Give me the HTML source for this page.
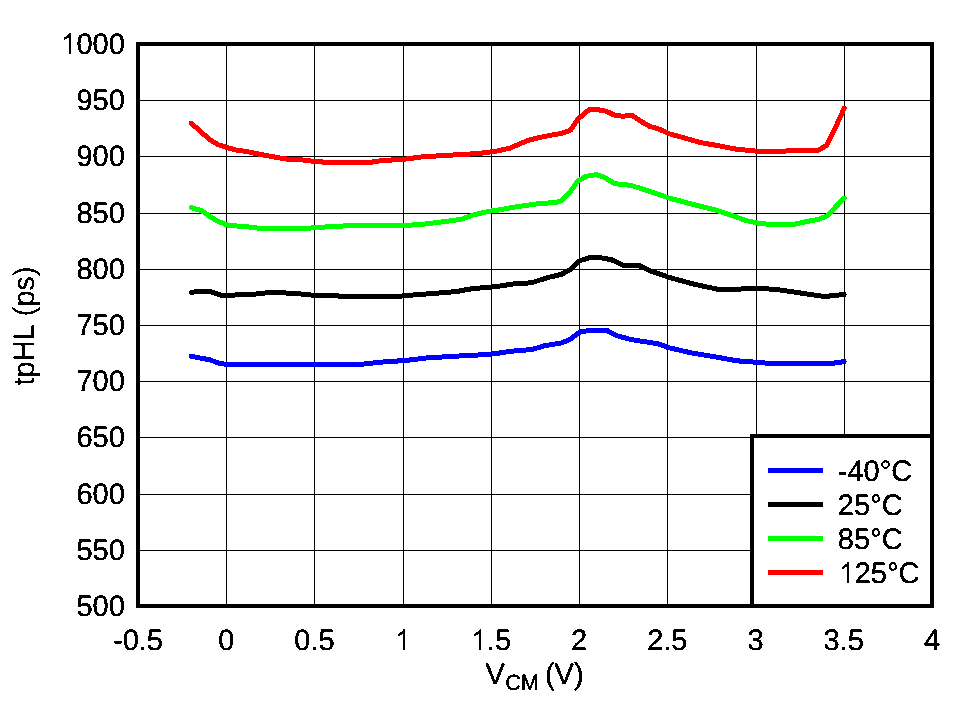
<!DOCTYPE html>
<html><head><meta charset="utf-8"><title>tpHL vs VCM</title>
<style>
html,body{margin:0;padding:0;background:#fff;}
body{width:964px;height:701px;overflow:hidden;}
svg{display:block;text-rendering:geometricPrecision;font-family:"Liberation Sans",sans-serif;font-size:29px;fill:#000;}
.c{fill:none;stroke-width:5;stroke-linejoin:round;stroke-linecap:round;shape-rendering:crispEdges;}
</style></head><body>
<svg width="964" height="701" viewBox="0 0 964 701">
<defs><filter id="th" x="0" y="0" width="964" height="701" filterUnits="userSpaceOnUse" color-interpolation-filters="sRGB"><feComponentTransfer><feFuncA type="discrete" tableValues="0 0 0 1 1"/></feComponentTransfer></filter></defs>
<rect width="964" height="701" fill="#fff"/>
<g shape-rendering="crispEdges" fill="#000"><rect x="226" y="44" width="1" height="562"/><rect x="314" y="44" width="1" height="562"/><rect x="403" y="44" width="1" height="562"/><rect x="491" y="44" width="1" height="562"/><rect x="579" y="44" width="1" height="562"/><rect x="667" y="44" width="1" height="562"/><rect x="756" y="44" width="1" height="562"/><rect x="844" y="44" width="1" height="562"/><rect x="138" y="100" width="794" height="1"/><rect x="138" y="156" width="794" height="1"/><rect x="138" y="213" width="794" height="1"/><rect x="138" y="269" width="794" height="1"/><rect x="138" y="325" width="794" height="1"/><rect x="138" y="381" width="794" height="1"/><rect x="138" y="437" width="794" height="1"/><rect x="138" y="494" width="794" height="1"/><rect x="138" y="550" width="794" height="1"/></g>
<polyline class="c" stroke="#0000ff" points="191.3,356.3 209.9,359.9 219.9,363.4 225.7,364.3 361.6,364.3 381.5,362.1 406.4,360.4 426.3,358.0 452.9,356.3 486.1,354.6 497.0,353.4 511.6,351.2 531.5,349.6 544.8,345.7 561.4,342.9 569.7,339.6 579.6,332.1 588.8,330.5 607.0,330.5 616.2,335.5 631.1,339.6 650.0,342.5 658.3,343.8 668.3,347.6 691.5,352.9 716.4,357.1 733.0,360.1 744.6,361.7 760.5,362.3 769.5,363.7 829.8,363.7 844.2,361.6"/>
<polyline class="c" stroke="#000000" points="191.3,292.4 196.6,291.6 209.9,291.6 219.9,294.9 226.5,296.0 239.8,294.5 256.4,294.0 268.0,292.7 282.9,292.7 292.9,293.7 301.2,294.0 314.5,295.4 334.4,295.7 345.0,296.5 396.4,296.5 414.7,294.9 432.9,293.5 456.2,291.6 469.5,289.1 489.4,287.1 497.0,286.5 514.9,283.7 531.5,282.8 548.1,277.4 561.4,274.4 569.7,269.9 579.6,260.8 588.8,257.9 601.2,257.9 611.2,259.6 622.8,265.2 639.4,265.7 650.0,270.8 668.3,277.1 693.2,284.0 716.4,289.0 741.3,289.0 744.6,288.2 757.9,288.2 776.1,289.5 796.0,292.3 809.9,294.5 824.8,296.5 844.2,294.5"/>
<polyline class="c" stroke="#00ff00" points="191.3,207.7 201.6,210.7 209.9,216.5 218.2,221.5 228.2,225.3 248.1,226.9 258.0,228.1 278.8,228.9 284.6,228.1 309.5,228.1 327.7,226.8 340.0,226.4 346.6,225.6 403.1,225.6 423.0,224.3 442.9,221.8 461.2,219.3 472.8,215.1 489.4,211.2 497.0,210.3 514.9,207.0 541.5,203.2 554.7,202.8 561.4,200.7 569.7,192.4 578.0,180.7 586.3,176.3 596.2,174.6 604.5,177.4 614.5,183.6 631.1,185.4 650.0,191.5 668.3,197.8 691.5,204.0 716.4,210.3 733.0,215.9 746.3,220.6 757.9,223.1 769.5,224.4 794.6,224.2 806.6,221.5 818.2,219.5 826.5,216.2 844.2,198.2"/>
<polyline class="c" stroke="#ff0000" points="191.3,123.2 201.6,132.4 209.9,139.8 218.2,144.8 226.5,147.3 234.8,149.8 246.4,151.5 259.7,154.3 271.3,156.4 284.6,158.9 301.2,159.8 314.5,161.4 327.7,162.4 344.3,162.4 369.9,162.4 381.5,160.6 403.6,159.3 423.0,156.8 447.9,155.3 464.5,154.3 477.8,153.6 491.9,151.8 499.3,150.6 509.9,148.1 528.2,140.3 538.2,137.8 551.4,135.1 561.4,133.5 570.5,130.1 578.0,119.0 583.0,114.9 588.8,109.9 598.7,109.9 606.2,111.2 614.5,115.2 622.8,116.2 631.9,115.4 639.4,120.4 649.4,126.2 660.0,129.5 668.3,133.5 684.9,138.1 701.5,142.8 718.0,145.6 734.6,148.9 752.9,150.9 772.8,151.9 779.5,151.1 794.4,150.9 818.2,150.2 826.5,145.6 834.8,129.0 844.2,108.2"/>
<g shape-rendering="crispEdges">
<rect x="138" y="44" width="794" height="562" fill="none" stroke="#000" stroke-width="4"/>
<rect x="752" y="436" width="180" height="170" fill="#fff" stroke="#000" stroke-width="4"/>
<rect x="768" y="468" width="55" height="5" fill="#0000ff"/>
<rect x="768" y="502" width="55" height="5" fill="#000000"/>
<rect x="768" y="536" width="55" height="5" fill="#00ff00"/>
<rect x="768" y="570" width="55" height="5" fill="#ff0000"/>
</g>
<g filter="url(#th)" stroke="#000" stroke-width="0.5" stroke-linejoin="round"><g transform="translate(837.80,481.00) scale(1,1.02)"><text x="0.00" y="0" font-size="29px">-40°C</text></g><g transform="translate(837.80,515.00) scale(1,1.02)"><text x="0.00" y="0" font-size="29px">25°C</text></g><g transform="translate(837.80,549.00) scale(1,1.02)"><text x="0.00" y="0" font-size="29px">85°C</text></g><g transform="translate(838.50,583.00) scale(1,1.02)"><path transform="translate(0.00,0) scale(0.01416)" d="M763 0H583V-1147Q518 -1085 412.5 -1023Q307 -961 223 -930V-1104Q374 -1175 487 -1276Q600 -1377 647 -1472H763Z"/><text x="16.13" y="0" font-size="29px">25°C</text></g><g transform="translate(124.80,54.00) scale(1,1.02)"><path transform="translate(-64.51,0) scale(0.01416)" d="M763 0H583V-1147Q518 -1085 412.5 -1023Q307 -961 223 -930V-1104Q374 -1175 487 -1276Q600 -1377 647 -1472H763Z"/><text x="-48.39" y="0" font-size="29px">000</text></g><g transform="translate(124.80,110.20) scale(1,1.02)"><text x="-48.39" y="0" font-size="29px">950</text></g><g transform="translate(124.80,166.40) scale(1,1.02)"><text x="-48.39" y="0" font-size="29px">900</text></g><g transform="translate(124.80,222.60) scale(1,1.02)"><text x="-48.39" y="0" font-size="29px">850</text></g><g transform="translate(124.80,278.80) scale(1,1.02)"><text x="-48.39" y="0" font-size="29px">800</text></g><g transform="translate(124.80,335.00) scale(1,1.02)"><text x="-48.39" y="0" font-size="29px">750</text></g><g transform="translate(124.80,391.20) scale(1,1.02)"><text x="-48.39" y="0" font-size="29px">700</text></g><g transform="translate(124.80,447.40) scale(1,1.02)"><text x="-48.39" y="0" font-size="29px">650</text></g><g transform="translate(124.80,503.60) scale(1,1.02)"><text x="-48.39" y="0" font-size="29px">600</text></g><g transform="translate(124.80,559.80) scale(1,1.02)"><text x="-48.39" y="0" font-size="29px">550</text></g><g transform="translate(124.80,616.00) scale(1,1.02)"><text x="-48.39" y="0" font-size="29px">500</text></g><g transform="translate(138.00,650.00) scale(1,1.02)"><text x="-24.99" y="0" font-size="29px">-0.5</text></g><g transform="translate(226.22,650.00) scale(1,1.02)"><text x="-8.06" y="0" font-size="29px">0</text></g><g transform="translate(314.44,650.00) scale(1,1.02)"><text x="-20.16" y="0" font-size="29px">0.5</text></g><g transform="translate(402.67,650.00) scale(1,1.02)"><path transform="translate(-8.06,0) scale(0.01416)" d="M763 0H583V-1147Q518 -1085 412.5 -1023Q307 -961 223 -930V-1104Q374 -1175 487 -1276Q600 -1377 647 -1472H763Z"/></g><g transform="translate(490.89,650.00) scale(1,1.02)"><path transform="translate(-20.16,0) scale(0.01416)" d="M763 0H583V-1147Q518 -1085 412.5 -1023Q307 -961 223 -930V-1104Q374 -1175 487 -1276Q600 -1377 647 -1472H763Z"/><text x="-4.03" y="0" font-size="29px">.5</text></g><g transform="translate(579.11,650.00) scale(1,1.02)"><text x="-8.06" y="0" font-size="29px">2</text></g><g transform="translate(667.33,650.00) scale(1,1.02)"><text x="-20.16" y="0" font-size="29px">2.5</text></g><g transform="translate(755.55,650.00) scale(1,1.02)"><text x="-8.06" y="0" font-size="29px">3</text></g><g transform="translate(843.78,650.00) scale(1,1.02)"><text x="-20.16" y="0" font-size="29px">3.5</text></g><g transform="translate(932.00,650.00) scale(1,1.02)"><text x="-8.06" y="0" font-size="29px">4</text></g><g transform="translate(485.6,684) scale(1,1.02)"><text x="0.00" y="0" font-size="29px">V</text><g transform="translate(0,5.4)"><text x="19.54" y="0" font-size="21.6px">CM</text></g><text x="51.30" y="0" font-size="29px">&#160;(V)</text></g><g transform="translate(33.40,385.60) rotate(-90) scale(1,1.02)"><text x="0.00" y="0" font-size="29px">tpHL&#160;(ps)</text></g></g>
</svg>
</body></html>
